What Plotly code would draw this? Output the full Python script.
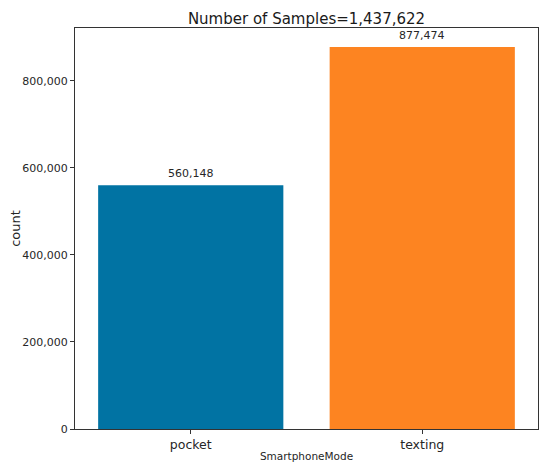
import plotly.graph_objects as go

modes = ["pocket", "texting"]
counts = [560148, 877474]
colors = ["#0173A3", "#FD8421"]
y_ticks = [0, 200000, 400000, 600000, 800000]

total = sum(counts)
font = "DejaVu Sans, Liberation Sans, sans-serif"

# page body has an 8px margin, so the figure is sized/positioned to compensate
W, H = 534, 454

fig = go.Figure()
fig.add_trace(
    go.Bar(
        x=modes,
        y=counts,
        marker=dict(color=colors, line=dict(width=0)),
        width=0.8,
        hoverinfo="x+y",
    )
)

# value labels above the bars
for m, c in zip(modes, counts):
    fig.add_annotation(
        x=m, y=c, text=f"{c:,}", showarrow=False,
        yanchor="bottom", yshift=3,
        font=dict(family=font, size=11, color="#262626"),
    )

fig.update_xaxes(
    range=[-0.5, 1.5], automargin=False,
    showline=True, linecolor="#333333", linewidth=1, mirror=True,
    ticks="outside", ticklen=4, tickcolor="#333333",
    tickfont=dict(family=font, size=12.5, color="#262626"),
    title=dict(text="SmartphoneMode", font=dict(family=font, size=10.5, color="#262626"), standoff=5),
    showgrid=False,
)
fig.update_yaxes(
    range=[0, max(counts) * 1.05], automargin=False,
    tickvals=y_ticks,
    ticktext=[f"{v:,}" for v in y_ticks],
    showline=True, linecolor="#333333", linewidth=1, mirror=True,
    ticks="outside", ticklen=4, tickcolor="#333333",
    tickfont=dict(family=font, size=11, color="#262626"),
    title=dict(text="count", font=dict(family=font, size=13, color="#262626"), standoff=9),
    showgrid=False, zeroline=False,
)

fig.update_layout(
    width=W, height=H,
    margin=dict(l=67, r=4, t=20, b=33, autoexpand=False),
    title=dict(
        text=f"Number of Samples={total:,}",
        x=298.5 / W, xanchor="center",
        y=1 - 11 / H, yanchor="middle",
        font=dict(family=font, size=15, color="#1a1a1a"),
    ),
    plot_bgcolor="white",
    paper_bgcolor="white",
    showlegend=False,
)

fig.write_html("out.html")
